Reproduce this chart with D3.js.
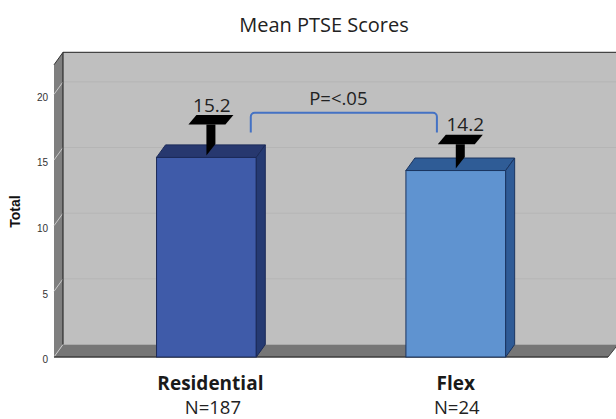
<!DOCTYPE html>
<html><head><meta charset="utf-8">
<script src="https://d3js.org/d3.v7.min.js"></script>
<style>html,body{margin:0;padding:0;background:#fff}svg{display:block}</style>
</head><body><svg id="c" width="616" height="419"></svg>
<script>
const categories = ["Residential", "Flex"];
const sampleSizes = ["N=187", "N=24"];
const means = [15.2, 14.2];
const meanLabels = ["15.2", "14.2"];
const errorTops = [17.7, 16.2];
const tickValues = [0, 5, 10, 15, 20];
const bracketLevels = [17.1, 18.6];
const bracketLabel = "P=<.05";
const titleText = "Mean PTSE Scores";
const yTitle = "Total";
const frontColors = ["#3f5ba9", "#5f93d0"];
const topColors = ["#27386f", "#2f5c96"];
const sideColors = ["#253a72", "#2f5b96"];
const strokeColors = ["#1b2a58", "#1b3560"];

const svg = d3.select("#c");
const W = 616;
const dx = 9, dy = 12.5;               // oblique depth of the 3D box
const yMax = 22.25;
const y = d3.scaleLinear().domain([0, yMax]).range([357, 64.8]);
const x = d3.scaleBand().domain(categories).range([31.85, 630.35]).paddingInner(0.6).paddingOuter(0.5);
const L = 54, R = 608;
const poly = pts => pts.map(p => p.join(",")).join(" ");

// back wall, side wall, floor
svg.append("polygon").attr("points", poly([[L+dx,y(yMax)-dy],[W+2,y(yMax)-dy],[W+2,y(0)-dy],[L+dx,y(0)-dy]])).attr("fill", "#bfbfbf");
svg.append("polygon").attr("points", poly([[L,y(yMax)],[L+dx,y(yMax)-dy],[L+dx,y(0)-dy],[L,y(0)]])).attr("fill", "#7f7f7f");
svg.append("polygon").attr("points", poly([[L,y(0)],[L+dx,y(0)-dy],[W+2,y(0)-dy],[R,y(0)]])).attr("fill", "#767676");

// gridlines on back wall and the slanted ticks on the side wall
const gridTicks = tickValues.filter(d => d > 0);
svg.selectAll(".grid").data(gridTicks).join("line").attr("class", "grid")
  .attr("x1", L+dx).attr("x2", W+2).attr("y1", d => y(d)-dy).attr("y2", d => y(d)-dy)
  .attr("stroke", "#b5b5b5").attr("stroke-width", 1);
svg.selectAll(".slant").data(tickValues).join("line").attr("class", "slant")
  .attr("x1", L).attr("x2", L+dx).attr("y1", d => y(d)).attr("y2", d => y(d)-dy)
  .attr("stroke", "#c9c9c9").attr("stroke-width", 1);

// frame lines
svg.append("line").attr("x1", L+dx).attr("x2", W+2).attr("y1", y(yMax)-dy).attr("y2", y(yMax)-dy).attr("stroke", "#444").attr("stroke-width", 1.2);
svg.append("line").attr("x1", L+dx).attr("x2", L+dx).attr("y1", y(yMax)-dy).attr("y2", y(0)-dy).attr("stroke", "#222").attr("stroke-width", 1.1);
svg.append("line").attr("x1", L).attr("x2", L+dx).attr("y1", y(yMax)).attr("y2", y(yMax)-dy).attr("stroke", "#333").attr("stroke-width", 1);
svg.append("line").attr("x1", L).attr("x2", R).attr("y1", y(0)).attr("y2", y(0)).attr("stroke", "#3c3c3c").attr("stroke-width", 1.4);
svg.append("line").attr("x1", R).attr("x2", W+2).attr("y1", y(0)).attr("y2", y(0)-dy).attr("stroke", "#3c3c3c").attr("stroke-width", 1);

// y axis
const axis = svg.append("g").attr("transform", `translate(${L},2.5)`)
  .call(d3.axisLeft(y).tickValues(tickValues).tickSize(0).tickPadding(6));
axis.select(".domain").remove();
axis.selectAll("text").attr("font-family", "'Liberation Sans',Arial,sans-serif").attr("font-size", 10).attr("fill", "#333");

svg.append("text").text(yTitle)
  .attr("transform", "translate(19.5,211.5) rotate(-90)")
  .attr("text-anchor", "middle").attr("font-family", "'Liberation Sans',Arial,sans-serif")
  .attr("font-weight", "bold").attr("font-size", 14).attr("fill", "#111");

// bars
const bars = svg.selectAll(".bar").data(categories).join("g").attr("class", "bar");
bars.append("rect")
  .attr("x", d => x(d)).attr("width", x.bandwidth())
  .attr("y", (d,i) => y(means[i])).attr("height", (d,i) => y(0)-y(means[i]))
  .attr("fill", (d,i) => frontColors[i]).attr("stroke", (d,i) => strokeColors[i]);
bars.append("polygon").attr("points", (d,i) => {
  const a = x(d), b = a + x.bandwidth(), t = y(means[i]);
  return poly([[a,t],[a+dx,t-dy],[b+dx,t-dy],[b,t]]);
}).attr("fill", (d,i) => topColors[i]).attr("stroke", (d,i) => strokeColors[i]);
bars.append("polygon").attr("points", (d,i) => {
  const b = x(d) + x.bandwidth(), t = y(means[i]);
  return poly([[b,t],[b+dx,t-dy],[b+dx,y(0)-dy],[b,y(0)]]);
}).attr("fill", (d,i) => sideColors[i]).attr("stroke", (d,i) => strokeColors[i]);

// error whiskers: stem plus oblique cap
const whisk = svg.selectAll(".whisk").data(categories).join("g").attr("class", "whisk");
whisk.append("polygon").attr("points", (d,i) => {
  const c = x(d) + x.bandwidth()/2, t = y(errorTops[i]), m = y(means[i]);
  return poly([[c,t],[c+dx,t],[c+dx,m-dy-1],[c,m-2]]);
}).attr("fill", "#000");
whisk.append("polygon").attr("points", (d,i) => {
  const c = x(d) + x.bandwidth()/2, t = y(errorTops[i]);
  return poly([[c-18,t],[c+19,t],[c+19+dx-1,t-9.5],[c-18+dx-1,t-9.5]]);
}).attr("fill", "#000");

// value labels
const bodyFont = "'Open Sans','Noto Sans',sans-serif";
svg.selectAll(".val").data(categories).join("text").attr("class", "val")
  .text((d,i) => meanLabels[i])
  .attr("x", (d,i) => x(d) + x.bandwidth()/2 + (i ? 9.5 : 5.5))
  .attr("y", (d,i) => y(errorTops[i]) - 13)
  .attr("text-anchor", "middle").attr("font-family", bodyFont).attr("font-size", 19).attr("fill", "#222");

// significance bracket
const bx0 = x(categories[0]) + x.bandwidth() + dx - 14.5;
const bx1 = x(categories[1]) + 31;
const bPath = d3.path();
bPath.moveTo(bx0, y(bracketLevels[0]));
bPath.arcTo(bx0, y(bracketLevels[1]), bx0 + 4, y(bracketLevels[1]), 4);
bPath.arcTo(bx1, y(bracketLevels[1]), bx1, y(bracketLevels[0]), 4);
bPath.lineTo(bx1, y(bracketLevels[0]));
svg.append("path").attr("d", bPath.toString()).attr("fill", "none").attr("stroke", "#4472c4").attr("stroke-width", 2);
svg.append("text").text(bracketLabel).attr("x", (bx0+bx1)/2 - 5.5).attr("y", y(bracketLevels[1]) - 8)
  .attr("text-anchor", "middle").attr("font-family", bodyFont).attr("font-size", 18.5).attr("fill", "#222");

// title and category labels
svg.append("text").text(titleText).attr("x", 324).attr("y", 32)
  .attr("text-anchor", "middle").attr("font-family", bodyFont).attr("font-size", 20).attr("fill", "#222");
svg.selectAll(".cat").data(categories).join("text").attr("class", "cat").text(d => d)
  .attr("x", (d,i) => x(d) + x.bandwidth()/2 + (i ? 0 : 4)).attr("y", 390)
  .attr("text-anchor", "middle").attr("font-family", bodyFont).attr("font-weight", "bold").attr("font-size", 19).attr("fill", "#1a1a1a");
svg.selectAll(".n").data(sampleSizes).join("text").attr("class", "n").text(d => d)
  .attr("x", (d,i) => x(categories[i]) + x.bandwidth()/2 + (i ? 1 : 6.5)).attr("y", 413.5)
  .attr("text-anchor", "middle").attr("font-family", bodyFont).attr("font-size", 18.5).attr("fill", "#222");
</script></body></html>
